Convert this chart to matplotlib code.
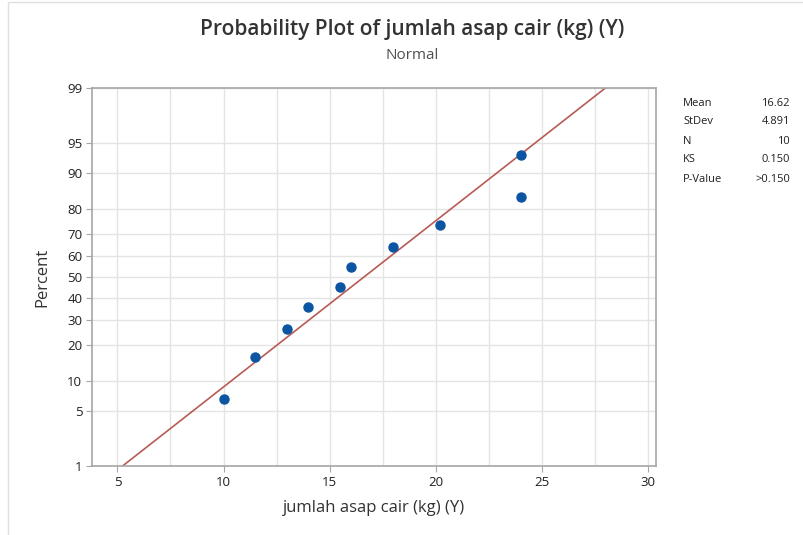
"""Normal probability plot of jumlah asap cair (kg) (Y)."""

from statistics import NormalDist

import matplotlib

matplotlib.use("Agg")
import matplotlib.pyplot as plt
import numpy as np
from matplotlib.patches import Rectangle

# sorted observations and their plotting positions (percent)
x_values = [10, 11.5, 13, 14, 15.5, 16, 18, 20.2, 24, 24]
percent = [6.7, 16.3, 26.0, 35.6, 45.2, 54.8, 64.4, 74.0, 83.7, 93.3]

mean = 16.62
stdev = 4.891
stat_names = ["Mean", "StDev", "N", "KS", "P-Value"]
stat_values = ["16.62", "4.891", "10", "0.150", ">0.150"]

y_ticks = [1, 5, 10, 20, 30, 40, 50, 60, 70, 80, 90, 95, 99]
x_ticks = [5, 10, 15, 20, 25, 30]

_nd = NormalDist()
_ppf = np.vectorize(lambda p: _nd.inv_cdf(min(max(p / 100.0, 1e-9), 1 - 1e-9)),
                    otypes=[float])
_cdf = np.vectorize(lambda z: _nd.cdf(z) * 100.0, otypes=[float])

plt.rcParams["font.family"] = ["Open Sans", "DejaVu Sans"]

fig = plt.figure(figsize=(8.04, 5.35), dpi=100)
ax = fig.add_axes([0.1144, 0.129, 0.7020, 0.7066])
ax.set_yscale("function", functions=(_ppf, _cdf))

# fitted line between 1% and 99%
line_pct = np.array([1.0, 99.0])
line_x = mean + stdev * _ppf(line_pct)
ax.plot(line_x, line_pct, color="#B85A55", lw=1.2, zorder=2)
ax.plot(x_values, percent, "o", color="#0B55A3", ms=6.5, zorder=3)

ax.set_xlim(3.8, 30.4)
ax.set_ylim(1, 99)
ax.set_yticks(y_ticks)
ax.set_yticklabels([str(t) for t in y_ticks])
ax.set_yticks([], minor=True)
ax.set_xticks(x_ticks)
ax.set_xticks(np.arange(7.5, 30, 5), minor=True)

ax.grid(True, which="both", color="#E4E4E4", lw=1.0, zorder=0)
for s in ax.spines.values():
    s.set_color("#A6A6A6")
    s.set_linewidth(1.2)
ax.tick_params(which="major", length=4, color="#A6A6A6", labelsize=9.5,
               labelcolor="#202020", pad=3)
ax.tick_params(which="minor", length=0)

ax.set_xlabel("jumlah asap cair (kg) (Y)", fontsize=12, color="#333333", labelpad=8)
ax.set_ylabel("Percent", fontsize=12, color="#333333", labelpad=12)

fig.text(0.5125, 0.944, "Probability Plot of jumlah asap cair (kg) (Y)",
         ha="center", va="center", fontsize=15, color="#333333", weight="semibold")
fig.text(0.5125, 0.897, "Normal", ha="center", va="center", fontsize=11,
         color="#505050")

for i, (name, val) in enumerate(zip(stat_names, stat_values)):
    y = 1 - (103 + i * 19) / 535
    fig.text(683 / 804, y, name, ha="left", va="center", fontsize=8, color="#202020")
    fig.text(790 / 804, y, val, ha="right", va="center", fontsize=8, color="#202020")

# faint frame of the original screenshot
fig.patches.append(Rectangle((8 / 804, -0.01), 1.0, 1 - 2 / 535 + 0.01,
                             transform=fig.transFigure, fill=False,
                             edgecolor="#E0E0E0", lw=1.0))

fig.savefig("out.png", dpi=100)
